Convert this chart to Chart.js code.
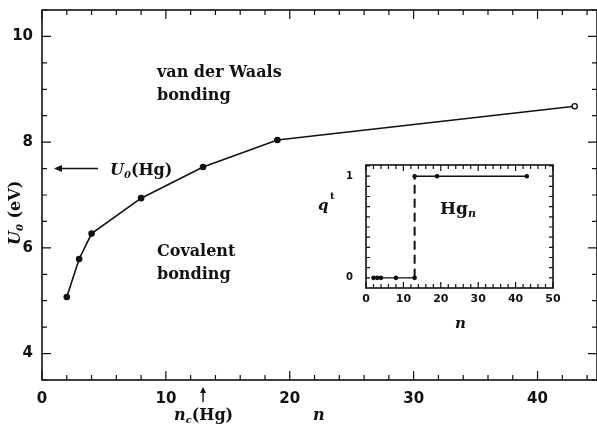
<!DOCTYPE html>
<html>
<head>
<meta charset="utf-8">
<script src="https://cdn.jsdelivr.net/npm/chart.js@4.4.1/dist/chart.umd.min.js"></script>
<style>
  html, body { margin: 0; padding: 0; background: #fff; }
  #wrap { position: relative; width: 597px; height: 424px; }
  #mainChart { position: absolute; left: 0; top: 0; }
  #insetChart { position: absolute; left: 320px; top: 150px; }
</style>
</head>
<body>
<div id="wrap">
  <canvas id="mainChart" width="597" height="424"></canvas>
  <canvas id="insetChart" width="260" height="190"></canvas>
</div>
<script>
// main panel: binding energy per atom vs cluster size
const nValues = [2, 3, 4, 8, 13, 19, 43];
const u0Values = [5.07, 5.79, 6.27, 6.94, 7.53, 8.04, 8.68];
const xTickLabels = [0, 10, 20, 30, 40];
const yTickLabels = [4, 6, 8, 10];
const u0Hg = 7.5;   // U0(Hg) arrow
const ncHg = 13;    // nc(Hg) arrow

// inset: q^t vs n
const insetLowN = [2, 3, 4, 8, 13];
const insetLowQ = [0, 0, 0, 0, 0];
const insetHighN = [13, 19, 43];
const insetHighQ = [1, 1, 1];
const insetXTicks = [0, 10, 20, 30, 40, 50];
const insetYTicks = [0, 1];

const INK = '#111';
const textFont = 'bold 16px "DejaVu Serif"';

function pts(xs, ys) {
    return xs.map((x, i) => ({ x: x, y: ys[i] }));
}

// no extra room for half-labels at the ends of an axis
function noEndPad(s) {
    s.paddingTop = 0; s.paddingBottom = 0;
    s.paddingLeft = 0; s.paddingRight = 0;
}

// draws inward ticks on all four sides of a chart
function boxTicks(major, minor, isMajorX, isMajorY) {
    return {
        id: 'boxTicks',
        afterDraw(chart) {
            const ctx = chart.ctx;
            const a = chart.chartArea;
            const xs = chart.scales.x, ys = chart.scales.y;
            ctx.save();
            ctx.strokeStyle = INK;
            ctx.lineWidth = 1.2;
            xs.ticks.forEach(t => {
                const px = xs.getPixelForValue(t.value);
                if (px < a.left - 0.5 || px > a.right + 0.5) return;
                const len = isMajorX(t.value) ? major : minor;
                ctx.beginPath();
                ctx.moveTo(px, a.bottom); ctx.lineTo(px, a.bottom - len);
                ctx.moveTo(px, a.top); ctx.lineTo(px, a.top + len);
                ctx.stroke();
            });
            ys.ticks.forEach(t => {
                const py = ys.getPixelForValue(t.value);
                if (py < a.top - 0.5 || py > a.bottom + 0.5) return;
                const len = isMajorY(t.value) ? major : minor;
                ctx.beginPath();
                ctx.moveTo(a.left, py); ctx.lineTo(a.left + len, py);
                ctx.moveTo(a.right, py); ctx.lineTo(a.right - len, py);
                ctx.stroke();
            });
            ctx.lineWidth = 1.6;
            ctx.strokeRect(a.left, a.top, a.right - a.left, a.bottom - a.top);
            ctx.restore();
        }
    };
}

function drawSub(ctx, base, sub, x, y, baseFont, subFont, subDrop) {
    ctx.font = baseFont;
    ctx.fillText(base, x, y);
    const w = ctx.measureText(base).width;
    ctx.font = subFont;
    ctx.fillText(sub, x + w, y + subDrop);
    return w + ctx.measureText(sub).width;
}

// text and arrows on the main panel
const mainLabels = {
    id: 'mainLabels',
    afterDraw(chart) {
        const ctx = chart.ctx;
        const xs = chart.scales.x, ys = chart.scales.y;
        ctx.save();
        ctx.fillStyle = INK;
        ctx.strokeStyle = INK;
        ctx.textBaseline = 'alphabetic';
        ctx.textAlign = 'left';

        ctx.font = textFont;
        ctx.fillText('van der Waals', 157, 77);
        ctx.fillText('bonding', 157, 100);
        ctx.fillText('Covalent', 157, 256);
        ctx.fillText('bonding', 157, 279);

        // U0(Hg) arrow
        const yHg = ys.getPixelForValue(u0Hg);
        ctx.lineWidth = 1.4;
        ctx.beginPath();
        ctx.moveTo(98, yHg); ctx.lineTo(56, yHg);
        ctx.stroke();
        ctx.beginPath();
        ctx.moveTo(54, yHg); ctx.lineTo(62, yHg - 3.5); ctx.lineTo(62, yHg + 3.5); ctx.closePath();
        ctx.fill();
        let w = drawSub(ctx, 'U', '0', 110, yHg + 6, 'italic bold 16px "DejaVu Serif"', 'italic bold 10px "DejaVu Serif"', 3);
        ctx.font = textFont;
        ctx.fillText('(Hg)', 110 + w, yHg + 6);

        // nc(Hg) arrow
        const xNc = xs.getPixelForValue(ncHg);
        ctx.beginPath();
        ctx.moveTo(xNc, 402); ctx.lineTo(xNc, 390);
        ctx.stroke();
        ctx.beginPath();
        ctx.moveTo(xNc, 387); ctx.lineTo(xNc - 3, 393); ctx.lineTo(xNc + 3, 393); ctx.closePath();
        ctx.fill();
        w = drawSub(ctx, 'n', 'c', 174, 420, 'italic bold 16px "DejaVu Serif"', 'italic bold 10px "DejaVu Serif"', 3);
        ctx.font = textFont;
        ctx.fillText('(Hg)', 174 + w, 420);

        // axis titles
        ctx.font = 'italic bold 16px "DejaVu Serif"';
        ctx.fillText('n', 313, 420);

        ctx.translate(20, 245);
        ctx.rotate(-Math.PI / 2);
        w = drawSub(ctx, 'U', '0', 0, 0, 'italic bold 16px "DejaVu Serif"', 'italic bold 10px "DejaVu Serif"', 3);
        ctx.font = textFont;
        ctx.fillText(' (eV)', w, 0);
        ctx.restore();

        // inset side labels (drawn under the transparent inset canvas)
        ctx.save();
        ctx.fillStyle = INK;
        ctx.font = 'italic bold 15px "DejaVu Serif"';
        ctx.fillText('q', 318, 210);
        ctx.font = 'bold 10px "DejaVu Serif"';
        ctx.fillText('t', 330, 199);
        ctx.font = 'italic bold 15px "DejaVu Serif"';
        ctx.fillText('n', 455, 328);
        ctx.restore();
    }
};

new Chart(document.getElementById('mainChart').getContext('2d'), {
    type: 'scatter',
    data: {
        datasets: [{
            data: pts(nValues, u0Values),
            showLine: true,
            borderColor: INK,
            borderWidth: 1.6,
            pointRadius: 2.6,
            pointBorderWidth: 1.4,
            pointBorderColor: INK,
            pointBackgroundColor: nValues.map((n, i) => i === nValues.length - 1 ? '#fff' : INK)
        }]
    },
    options: {
        responsive: false,
        animation: false,
        layout: { autoPadding: false, padding: { top: 10, right: 0, left: 0, bottom: 0 } },
        plugins: { legend: { display: false }, tooltip: { enabled: false } },
        scales: {
            x: {
                type: 'linear',
                min: 0, max: 44.8,
                afterFit: s => { s.height = 44; noEndPad(s); },
                afterBuildTicks: s => {
                    const t = [];
                    for (let v = 0; v <= 44; v += 2) t.push({ value: v });
                    s.ticks = t;
                },
                grid: { display: false, drawTicks: false },
                border: { display: false },
                ticks: {
                    color: INK, padding: 10, maxRotation: 0, autoSkip: false,
                    font: { family: 'DejaVu Sans', weight: 'bold', size: 15 },
                    callback: v => xTickLabels.includes(v) ? String(v) : ''
                }
            },
            y: {
                min: 3.5, max: 10.5,
                afterFit: s => { s.width = 42; noEndPad(s); },
                afterBuildTicks: s => {
                    const t = [];
                    for (let v = 3.5; v <= 10.5; v += 0.5) t.push({ value: v });
                    s.ticks = t;
                },
                grid: { display: false, drawTicks: false },
                border: { display: false },
                ticks: {
                    color: INK, padding: 9, autoSkip: false,
                    font: { family: 'DejaVu Sans', weight: 'bold', size: 15 },
                    callback: v => yTickLabels.includes(v) ? String(v) : ''
                }
            }
        }
    },
    plugins: [boxTicks(9, 5, v => v % 10 === 0, v => v % 2 === 0), mainLabels]
});

const insetLabels = {
    id: 'insetLabels',
    afterDraw(chart) {
        const ctx = chart.ctx;
        ctx.save();
        ctx.fillStyle = INK;
        const base = 'bold 17px "DejaVu Serif"';
        drawSub(ctx, 'Hg', 'n', 120, 64, base, 'italic bold 11px "DejaVu Serif"', 3);
        ctx.restore();
    }
};

new Chart(document.getElementById('insetChart').getContext('2d'), {
    type: 'scatter',
    data: {
        datasets: [{
            data: pts(insetLowN, insetLowQ),
            showLine: true, borderColor: INK, borderWidth: 1.4,
            pointRadius: 1.6, pointBackgroundColor: INK, pointBorderColor: INK
        }, {
            data: pts(insetHighN, insetHighQ),
            showLine: true, borderColor: INK, borderWidth: 1.4,
            pointRadius: 1.6, pointBackgroundColor: INK, pointBorderColor: INK
        }, {
            data: [{ x: ncHg, y: 0 }, { x: ncHg, y: 1 }],
            showLine: true, borderColor: INK, borderWidth: 2, borderDash: [9, 5],
            pointRadius: 0
        }]
    },
    options: {
        responsive: false,
        animation: false,
        layout: { autoPadding: false, padding: { top: 15, right: 27, left: 0, bottom: 0 } },
        plugins: { legend: { display: false }, tooltip: { enabled: false } },
        scales: {
            x: {
                type: 'linear', min: 0, max: 50,
                afterFit: s => { s.height = 52; noEndPad(s); },
                afterBuildTicks: s => {
                    const t = [];
                    for (let v = 0; v <= 50; v += 2) t.push({ value: v });
                    s.ticks = t;
                },
                grid: { display: false, drawTicks: false },
                border: { display: false },
                ticks: {
                    color: INK, padding: 5, maxRotation: 0, autoSkip: false,
                    font: { family: 'DejaVu Sans', weight: 'bold', size: 11 },
                    callback: v => insetXTicks.includes(v) ? String(v) : ''
                }
            },
            y: {
                min: -0.1, max: 1.11,
                afterFit: s => { s.width = 46; noEndPad(s); },
                afterBuildTicks: s => {
                    const t = [];
                    for (let k = 0; k <= 11; k++) t.push({ value: Math.round((k * 0.1) * 10) / 10 });
                    s.ticks = t;
                },
                grid: { display: false, drawTicks: false },
                border: { display: false },
                ticks: {
                    color: INK, padding: 13, autoSkip: false,
                    font: { family: 'DejaVu Sans', weight: 'bold', size: 10 },
                    callback: v => insetYTicks.includes(v) ? String(v) : ''
                }
            }
        }
    },
    plugins: [boxTicks(6, 4, v => v % 10 === 0, v => false), insetLabels]
});
</script>
</body>
</html>
